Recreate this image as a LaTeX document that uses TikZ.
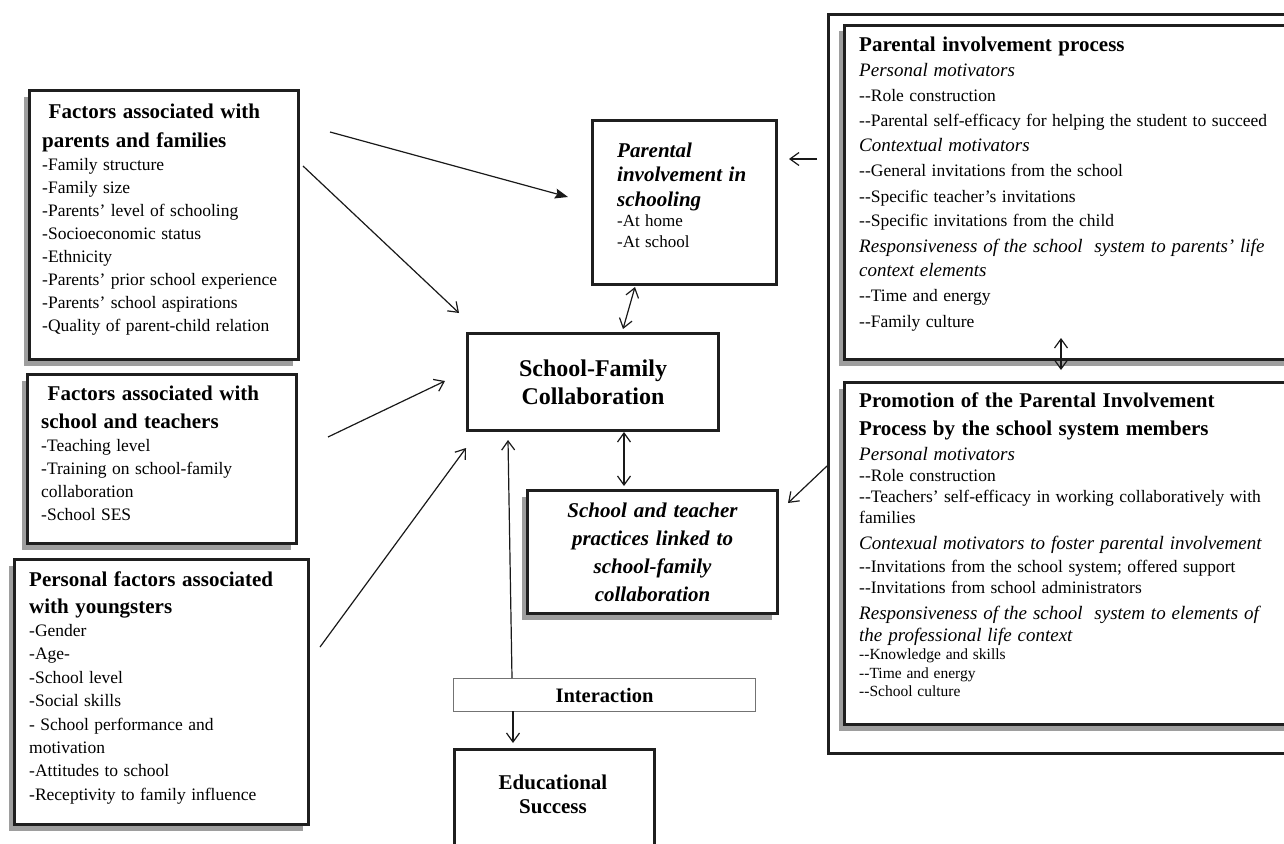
\documentclass[tikz,border=0pt]{standalone}
\usepackage{fontspec}
\setmainfont{Liberation Serif}
\usetikzlibrary{arrows.meta,shadows}
\newcommand\dbldash{-\kern0pt-}
\newcommand\wsp{\spaceskip=.31em plus .1em minus .05em\relax}
\newcommand\itl[1]{{\fontsize{19}{21}\selectfont\itshape\wsp #1}}
\begin{document}
\begin{tikzpicture}[x=1pt,y=-1pt,
  box/.style={draw=black!88,line width=3pt,fill=white,inner sep=0pt,anchor=north west},
  shbox/.style={box,drop shadow={shadow xshift=-6pt,shadow yshift=-6pt,fill=black!38,opacity=1}},
  txt/.style={anchor=base west,inner sep=0pt,align=left,text width=#1},
  conn/.style={line width=1.2pt,draw=black!90},
  oarrow/.style={conn,-{Straight Barb[length=9pt,width=13pt]}},
  darrow/.style={conn,{Straight Barb[length=9pt,width=13pt]}-{Straight Barb[length=9pt,width=13pt]}},
  farrow/.style={conn,-{Stealth[length=13pt,width=10pt,inset=2pt]}}
]
\useasboundingbox (0,0) rectangle (1284,843);

% ---------- left boxes ----------
\node[shbox,minimum width=269,minimum height=269] (parfam) at (28,89) {};
\node[txt=265pt] (parfamtxt) at (42,118) {{\fontsize{21}{29}\selectfont\bfseries\wsp\ Factors associated with\\ parents and families\par}{\fontsize{17.5}{23.1}\selectfont\wsp -Family structure\\ -Family size\\ -Parents' level of schooling\\ -Socioeconomic status\\ -Ethnicity\\ -Parents' prior school experience\\ -Parents' school aspirations\\ -Quality of parent-child relation\par}};

\node[shbox,minimum width=269,minimum height=169] (schteach) at (26,373) {};
\node[txt=265pt] (schteachtxt) at (41,400) {{\fontsize{21}{28}\selectfont\bfseries\wsp\ Factors associated with\\ school and teachers\par}{\fontsize{17.5}{23.2}\selectfont\wsp -Teaching level\\ -Training on school-family\\ collaboration\\ -School SES\par}};

\node[shbox,minimum width=294,minimum height=265] (youth) at (13,558) {};
\node[txt=285pt] (youthtxt) at (29,586) {{\fontsize{21}{27}\selectfont\bfseries\wsp Personal factors associated\\ with youngsters\par}{\fontsize{17.5}{23.4}\selectfont\wsp -Gender\\ -Age-\\ -School level\\ -Social skills\\ - School performance and\\ motivation\\ -Attitudes to school\\ -Receptivity to family influence\par}};

% ---------- centre boxes ----------
\node[box,minimum width=184,minimum height=164] (pinv) at (591,119) {};
\node[txt=170pt] (pinvtxt) at (617,157) {{\fontsize{21}{24.5}\selectfont\bfseries\itshape\wsp Parental\\ involvement in\\ schooling\par}{\fontsize{17}{20.5}\selectfont\wsp -At home\\ -At school\par}};

\node[box,minimum width=251,minimum height=97,align=center,font=\fontsize{24}{28}\selectfont\bfseries] (sfc) at (466,332) {School-Family\\ Collaboration};

\node[shbox,minimum width=250,minimum height=123,text width=250pt,align=center,font=\fontsize{21}{28}\selectfont\bfseries\itshape] (practices) at (526,489) {School and teacher\\ practices linked to\\ school-family\\ collaboration};

\node[draw=black!55,line width=1pt,fill=white,inner sep=0pt,anchor=north west,minimum width=302,minimum height=33,font=\fontsize{20.5}{24}\selectfont\bfseries] (interaction) at (453,678) {Interaction};

\node[box,minimum width=200,minimum height=120] (success) at (453,748) {};
\node[anchor=base,inner sep=0pt,text width=200pt,align=center,font=\fontsize{21}{24}\selectfont\bfseries] (successtxt) at (553,789) {Educational\\ Success};

% ---------- right frame ----------
\node[draw=black!88,line width=3pt,inner sep=0pt,anchor=north west,minimum width=480,minimum height=739] (frame) at (827,13) {};

\node[shbox,minimum width=460,minimum height=334] (pip) at (843,24) {};
\node[txt=440pt] (piptxt) at (859,52) {{\fontsize{21}{25}\selectfont\bfseries\wsp Parental involvement process\par}{\fontsize{17.5}{25}\selectfont\wsp \itl{Personal motivators}\\ \dbldash Role construction\\ \dbldash Parental self-efficacy for helping the student to succeed\\ \itl{Contextual motivators}\\ \dbldash General invitations from the school\\ \dbldash Specific teacher\symbol{39}s invitations\\ \dbldash Specific invitations from the child\\ \itl{Responsiveness of the school\ \ system to parents' life}\\ \itl{context elements}\\ \dbldash Time and energy\\ \dbldash Family culture\par}};

\node[shbox,minimum width=460,minimum height=342] (promo) at (843,381) {};
\node[txt=440pt] (promotxt) at (859,407) {{\fontsize{21}{28}\selectfont\bfseries\wsp Promotion of the Parental Involvement\\ Process by the school system members\par}\vspace{4pt}{\fontsize{17.5}{21}\selectfont\wsp \itl{Personal motivators}\\ \dbldash Role construction\\ \dbldash Teachers' self-efficacy in working collaboratively with\\ families\\[5pt] \itl{Contexual motivators to foster parental involvement}\\[2pt] \dbldash Invitations from the school system; offered support\\ \dbldash Invitations from school administrators\\[5pt] \itl{Responsiveness of the school\ \ system to elements of}\\[1pt] \itl{the professional life context}\par}{\fontsize{15.5}{18.5}\selectfont\wsp \dbldash Knowledge and skills\\ \dbldash Time and energy\\ \dbldash School culture\par}};

% ---------- connector ends ----------
\coordinate (f1s) at (330,132); \coordinate (f1e) at (568,197);
\coordinate (f2s) at (303,166); \coordinate (f2e) at (459,313);
\coordinate (f3s) at (328,437); \coordinate (f3e) at (445,381);
\coordinate (f4s) at (320,647); \coordinate (f4e) at (466,448);
\coordinate (intup) at (512,678); \coordinate (sfcin) at (508,440);
\coordinate (intdn) at (513,711); \coordinate (succin) at (513,743);
\coordinate (pinvb) at (635,287); \coordinate (sfct) at (623,329);
\coordinate (sfcb) at (624,432); \coordinate (prt) at (624,486);
\coordinate (frl) at (817,159); \coordinate (pinvr) at (789,159);
\coordinate (frw) at (827,466); \coordinate (prr) at (788,503);
\coordinate (pipb) at (1061,338); \coordinate (promot) at (1061,370);

\draw[farrow] (f1s) -- (f1e);
\draw[oarrow] (f2s) -- (f2e);
\draw[oarrow] (f3s) -- (f3e);
\draw[oarrow] (f4s) -- (f4e);
\draw[oarrow] (intup) -- (sfcin);
\draw[oarrow] (intdn) -- (succin);
\draw[darrow] (pinvb) -- (sfct);
\draw[darrow] (sfcb) -- (prt);
\draw[oarrow] (frl) -- (pinvr);
\draw[oarrow] (frw) -- (prr);
\draw[darrow] (pipb) -- (promot);
\end{tikzpicture}
\end{document}
